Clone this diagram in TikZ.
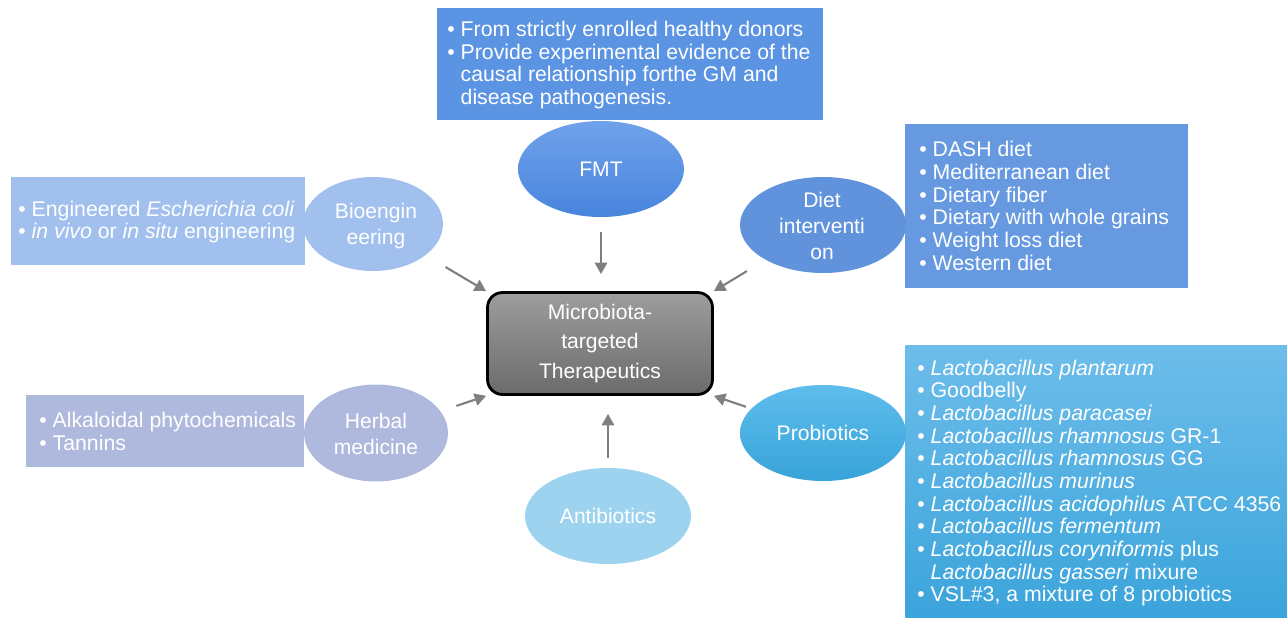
\documentclass[tikz,border=0pt]{standalone}
\usepackage{fontspec}
\setmainfont{Liberation Sans}
\usetikzlibrary{shapes.geometric,arrows.meta}
\definecolor{fmtbox}{HTML}{5B94E2}
\definecolor{fmttop}{HTML}{70A2EA}
\definecolor{fmtbot}{HTML}{4884DD}
\definecolor{biocol}{HTML}{A1C0EE}
\definecolor{dietell}{HTML}{6193DD}
\definecolor{dietbox}{HTML}{6699E0}
\definecolor{herbcol}{HTML}{AFB9DD}
\definecolor{anticol}{HTML}{9DD3EE}
\definecolor{protop}{HTML}{5EBDEC}
\definecolor{probot}{HTML}{38A3D9}
\definecolor{pboxtop}{HTML}{6DBDEA}
\definecolor{pboxbot}{HTML}{3BA4DB}
\definecolor{mttop}{HTML}{9D9D9D}
\definecolor{mtbot}{HTML}{6B6B6B}
\definecolor{arrcol}{HTML}{7F7F7F}
\tikzset{
  ell/.style={ellipse, inner sep=0pt, minimum width=3.32cm, minimum height=1.92cm},
  infobox/.style={inner sep=0pt, minimum width=#1, anchor=north west},
  lbl/.style={text=white, font=\fontsize{12}{14.8}\selectfont, align=center, inner sep=0pt},
  bullets/.style={text=white, font=\fontsize{12.1}{12.9}\selectfont, align=left, inner sep=0pt, anchor=west},
  arr/.style={draw=arrcol, line width=1.2pt, -{Triangle[width=7pt,length=6.5pt]}}
}
\newcommand{\bul}{•\ }
\newcommand{\ind}{\phantom{•\ }}
\begin{document}
\begin{tikzpicture}[x=0.02cm, y=-0.02cm]
\useasboundingbox (0,0) rectangle (1287,618);
% info boxes
\node[fill=fmtbox, infobox=7.72cm, minimum height=2.24cm] (fmtbox) at (437,8) {};
\node[fill=biocol, infobox=5.88cm, minimum height=1.76cm] (biobox) at (11,177) {};
\node[fill=dietbox, infobox=5.66cm, minimum height=3.28cm] (dietbox) at (905,124) {};
\node[fill=herbcol, infobox=5.56cm, minimum height=1.44cm] (herbbox) at (26,395) {};
\node[top color=pboxtop, bottom color=pboxbot, infobox=7.64cm, minimum height=5.46cm] (probox) at (905,345) {};
% ellipses
\node[ell, top color=fmttop, bottom color=fmtbot] (fmt) at (601,169) {};
\node[ell, fill=biocol, minimum width=2.8cm, minimum height=1.88cm] (bio) at (373,224) {};
\node[ell, fill=dietell] (diet) at (823,225) {};
\node[ell, fill=herbcol, minimum width=2.88cm, minimum height=1.94cm] (herb) at (376,433) {};
\node[ell, fill=anticol] (anti) at (608,516) {};
\node[ell, top color=protop, bottom color=probot] (pro) at (823,433) {};
% central box
\node[draw=black, line width=1.6pt, rounded corners=0.3cm, top color=mttop, bottom color=mtbot, minimum width=4.5cm, minimum height=2.04cm, inner sep=0pt] (mt) at (600,343.5) {};
\node[lbl, font=\fontsize{12}{17}\selectfont] (mtT) at (mt.center) {Microbiota-\\targeted\\Therapeutics};
% ellipse labels
\node[lbl] (fmtT) at (fmt.center) {FMT};
\node[lbl] (bioT) at (376,226) {Bioengin\\eering};
\node[lbl] (dietT) at (822,226) {Diet\\interventi\\on};
\node[lbl] (herbT) at (376,434) {Herbal\\medicine};
\node[lbl] (antiT) at (anti.center) {Antibiotics};
\node[lbl] (proT) at (pro.center) {Probiotics};
% bullet texts
\node[bullets] (fmtL) at (447,65) {\bul From strictly enrolled healthy donors\\\bul Provide experimental evidence of the\\\ind causal relationship forthe GM and\\\ind disease pathogenesis.};
\node[bullets] (bioL) at (18,222) {\bul Engineered \textit{Escherichia coli}\\\bul \textit{in vivo} or \textit{in situ} engineering};
\node[bullets] (dietL) at (919,206) {\bul DASH diet\\\bul Mediterranean diet\\\bul Dietary fiber\\\bul Dietary with whole grains\\\bul Weight loss diet\\\bul Western diet};
\node[bullets] (herbL) at (39,431.5) {\bul Alkaloidal phytochemicals\\\bul Tannins};
\node[bullets] (proL) at (917,483) {\bul \textit{Lactobacillus plantarum}\\\bul Goodbelly\\\bul \textit{Lactobacillus paracasei}\\\bul \textit{Lactobacillus rhamnosus} GR-1\\\bul \textit{Lactobacillus rhamnosus} GG\\\bul \textit{Lactobacillus murinus}\\\bul \textit{Lactobacillus acidophilus} ATCC 4356\\\bul \textit{Lactobacillus fermentum}\\\bul \textit{Lactobacillus coryniformis} plus\\\ind\textit{Lactobacillus gasseri} mixure\\\bul VSL\#3, a mixture of 8 probiotics};
% arrows
\draw[arr, shorten <=0.46cm] (bio) -- (mt.north west);
\draw[arr, shorten <=0.3cm, shorten >=0.34cm] (fmt.south) -- (fmt.south |- mt.north);
\draw[arr, shorten <=0.43cm] (diet) -- (mt.north east);
\draw[arr, shorten <=0.33cm] (herb) -- (mt.south west);
\draw[arr, shorten <=0.2cm, shorten >=0.36cm] (anti.north) -- (anti.north |- mt.south);
\draw[arr, shorten <=0.11cm] (pro) -- (mt.south east);
\end{tikzpicture}
\end{document}
